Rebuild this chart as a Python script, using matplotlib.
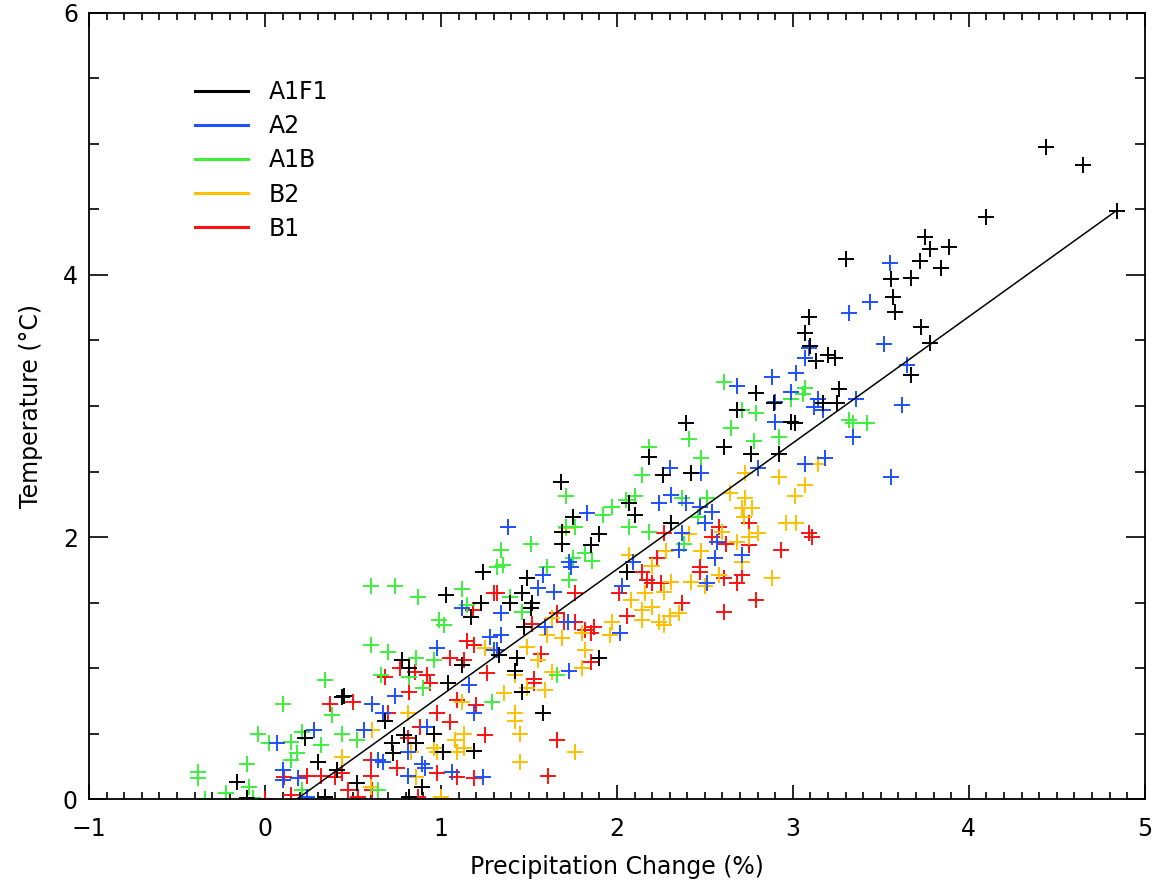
import numpy as np
import matplotlib
matplotlib.use("Agg")
import matplotlib.pyplot as plt
from matplotlib.lines import Line2D
from matplotlib.ticker import MultipleLocator

# scenario point clouds (precipitation change %, temperature degC)
a1f1_x = [4.44, 4.65, 4.84, 4.10, 3.75, 3.78, 3.89, 3.72, 3.84, 3.67, 3.56, 3.30, 3.57, 3.58,
          3.73, 3.78, 3.09, 3.07, 3.10, 3.20, 3.24, 3.13, 3.26, 3.25, 3.17, 3.01, 3.67,
          2.79, 2.89, 2.68, 2.99, 2.39, 2.61, 2.76, 2.18, 2.26, 2.42, 2.92, 2.31,
          1.68, 1.75, 1.69, 1.69, 1.90, 1.85, 2.07, 2.10,
          1.49, 1.46, 1.39, 1.52, 1.51, 1.47, 1.33, 1.43, 1.42, 1.90, 2.06,
          1.24, 1.03, 1.23, 1.17, 0.78, 1.12, 0.82,
          -0.16, -0.10, 0.23, 0.30, 0.34, 0.44, 0.41,
          0.45, 0.68, 0.79, 0.72, 0.73, 0.86, 0.96, 1.01, 1.19, 0.89, 0.82, 1.04, 0.52,
          1.46, 1.58]
a1f1_y = [4.98, 4.84, 4.49, 4.44, 4.29, 4.20, 4.21, 4.11, 4.05, 3.98, 3.97, 4.12, 3.83, 3.72,
          3.60, 3.48, 3.68, 3.56, 3.46, 3.39, 3.37, 3.34, 3.13, 3.02, 3.02, 2.87, 3.24,
          3.10, 3.02, 2.97, 2.88, 2.87, 2.69, 2.63, 2.61, 2.47, 2.49, 2.63, 2.11,
          2.42, 2.15, 2.04, 1.95, 2.02, 1.94, 2.26, 2.17,
          1.69, 1.57, 1.50, 1.50, 1.46, 1.31, 1.10, 1.08, 0.98, 1.08, 1.73,
          1.73, 1.56, 1.50, 1.39, 1.06, 1.02, 1.00,
          0.13, 0.01, 0.47, 0.28, 0.02, 0.78, 0.22,
          0.79, 0.60, 0.49, 0.43, 0.35, 0.43, 0.50, 0.36, 0.37, 0.09, 0.02, 0.89, 0.12,
          0.82, 0.66]

a2_x = [3.55, 3.44, 3.32, 3.52, 3.09, 3.07, 3.02, 2.99, 3.14, 3.12, 3.17, 3.36, 3.65, 3.62,
        3.34, 3.07, 3.18, 3.56,
        2.88, 2.68, 2.90, 2.90, 2.80, 2.30, 2.31, 2.24, 2.39, 2.47, 2.54, 2.50, 2.37, 2.57,
        2.71, 2.56, 2.35, 2.48,
        1.83, 1.38, 1.73, 2.09,
        1.58, 1.55, 1.64, 1.34, 1.34, 1.59, 1.72, 2.02, 1.73, 2.03, 1.32, 1.74, 2.51,
        1.12, 0.98, 1.28, 1.30,
        0.07, 0.28, 0.10, 0.10, 0.19, 0.24,
        0.61, 0.56, 0.67, 0.92, 0.64, 0.67, 0.81, 0.89, 0.91, 0.81, 1.06, 1.24, 1.19, 1.16, 0.74]
a2_y = [4.09, 3.79, 3.71, 3.47, 3.44, 3.37, 3.25, 3.11, 3.05, 2.99, 2.97, 3.05, 3.31, 3.01,
        2.76, 2.56, 2.60, 2.46,
        3.22, 3.15, 3.03, 2.88, 2.53, 2.53, 2.32, 2.26, 2.26, 2.23, 2.19, 2.11, 2.03, 1.96,
        1.86, 1.84, 1.90, 2.49,
        2.18, 2.08, 1.81, 1.81,
        1.71, 1.61, 1.58, 1.42, 1.25, 1.31, 1.35, 1.27, 0.98, 1.63, 1.14, 1.77, 1.65,
        1.46, 1.15, 1.24, 1.14,
        0.43, 0.53, 0.22, 0.15, 0.16, 0.02,
        0.73, 0.53, 0.66, 0.55, 0.30, 0.28, 0.36, 0.27, 0.24, 0.18, 0.21, 0.17, 0.66, 0.87, 0.79]

a1b_x = [3.07, 3.06, 2.99, 3.32, 3.34, 3.42,
         2.61, 2.71, 2.79, 2.65, 2.41, 2.78, 2.92, 2.18, 2.48, 2.14, 2.37, 2.51, 2.46, 2.18, 2.38,
         1.71, 1.92, 1.97, 2.05, 2.10, 2.07, 1.76, 1.71, 1.51, 1.34, 1.35, 1.82, 1.86, 1.75, 1.60,
         1.73, 1.39, 1.46, 1.66,
         0.60, 0.74, 0.87, 1.12, 0.99, 1.02, 0.60, 0.70, 0.86, 0.96, 1.15, 0.66, 0.82, 1.32,
         0.34, 0.10, -0.04, 0.02, 0.15, 0.21, 0.32, -0.10, -0.38, -0.38, 0.18, 0.15, 0.38, 0.44,
         -0.09, -0.22, 0.21, -0.07, -0.34,
         0.52, 1.29, 0.90, 0.64]
a1b_y = [3.14, 3.09, 3.05, 2.89, 2.87, 2.87,
         3.18, 2.97, 2.95, 2.83, 2.75, 2.73, 2.76, 2.69, 2.60, 2.47, 2.30, 2.30, 2.15, 2.04, 1.95,
         2.31, 2.17, 2.23, 2.28, 2.31, 2.08, 2.08, 2.08, 1.95, 1.90, 1.79, 1.88, 1.82, 1.84, 1.77,
         1.67, 1.54, 1.43, 0.95,
         1.63, 1.63, 1.54, 1.60, 1.37, 1.33, 1.18, 1.12, 1.08, 1.06, 1.48, 0.95, 0.93, 1.77,
         0.91, 0.73, 0.50, 0.43, 0.44, 0.51, 0.41, 0.27, 0.21, 0.16, 0.35, 0.30, 0.64, 0.50,
         0.09, 0.05, 0.07, 0.01, 0.00,
         0.45, 0.74, 0.85, 0.07]

b2_x = [3.14, 3.07, 3.01, 3.02,
        2.92, 2.73, 2.64, 2.73, 2.71, 2.77, 2.72, 2.96, 2.80, 2.75, 2.60, 2.68, 2.41, 2.48,
        2.28, 2.71, 2.20,
        1.71, 2.07,
        2.88, 2.42, 2.50, 2.58, 2.31, 2.27, 2.20, 2.30, 2.35, 2.24, 2.27,
        2.16, 2.08, 1.97, 1.80, 1.69, 1.60, 1.49, 1.82, 1.80, 1.63, 2.14, 2.14, 1.96, 1.55,
        1.42, 1.63, 1.25,
        0.81, 1.12, 1.08, 1.13, 0.96, 0.98, 1.09, 0.83, 0.86, 1.00, 0.61, 0.44, 1.13, 0.60,
        1.36, 1.59, 1.42, 1.42, 1.45, 1.76, 1.45, 1.49]
b2_y = [2.56, 2.40, 2.31, 2.11,
        2.46, 2.49, 2.34, 2.30, 2.22, 2.22, 2.15, 2.11, 2.03, 2.00, 2.04, 1.96, 2.02, 1.89,
        1.89, 1.81, 1.78,
        2.07, 1.86,
        1.69, 1.66, 1.63, 1.71, 1.66, 1.58, 1.47, 1.40, 1.42, 1.35, 1.33,
        1.57, 1.52, 1.35, 1.27, 1.23, 1.25, 1.16, 1.14, 1.00, 0.97, 1.44, 1.37, 1.25, 1.06,
        0.95, 1.38, 1.15,
        0.66, 0.74, 0.45, 0.50, 0.39, 0.36, 0.36, 0.36, 0.17, 0.02, 0.53, 0.32, 0.39, 0.09,
        0.81, 0.83, 0.66, 0.60, 0.50, 0.36, 0.28, 0.85]

b1_x = [3.09, 3.11,
        2.75, 2.58, 2.54, 2.62, 2.75, 2.93, 2.23, 2.56, 2.27,
        2.47, 2.47, 2.61, 2.68, 2.71, 2.37, 2.61, 2.79, 2.20, 2.25,
        1.32, 2.01, 2.14, 2.17, 1.76, 1.66, 1.70, 1.76, 1.87, 1.85, 1.82, 2.06, 1.52, 1.57,
        1.85, 1.53,
        1.30, 1.18, 1.15, 1.19, 1.05, 1.13, 0.77, 0.85, 0.92, 0.68, 1.26,
        0.37, 0.11, 0.24, 0.40, 0.15, 0.00, 0.32,
        0.50, 0.70, 0.82, 0.88, 0.98, 1.05, 1.09, 1.20, 1.25, 0.81, 0.60, 0.75, 0.60, 0.98,
        1.09, 1.19, 0.47, 0.61, 0.87, 0.53, 0.44, 0.94,
        1.53, 1.66, 1.61]
b1_y = [2.03, 2.00,
        2.11, 2.08, 2.00, 1.95, 1.94, 1.90, 1.84, 1.84, 2.03,
        1.77, 1.73, 1.69, 1.65, 1.71, 1.50, 1.43, 1.52, 1.65, 1.65,
        1.57, 1.57, 1.73, 1.67, 1.57, 1.42, 1.35, 1.35, 1.31, 1.27, 1.29, 1.40, 1.34, 1.11,
        1.05, 0.92,
        1.57, 1.44, 1.21, 1.18, 1.08, 1.06, 1.00, 0.97, 0.95, 0.93, 0.96,
        0.73, 0.17, 0.18, 0.17, 0.03, 0.00, 0.18,
        0.74, 0.66, 0.82, 0.55, 0.66, 0.59, 0.76, 0.72, 0.49, 0.47, 0.30, 0.24, 0.18, 0.20,
        0.17, 0.16, 0.07, 0.07, 0.02, 0.02, 0.20, 0.89,
        0.89, 0.45, 0.18]

# fitted line
fit_slope = 0.964
fit_intercept = -0.174
fit_xrange = [0.18, 4.84]

series = [
    ("A1F1", a1f1_x, a1f1_y, "#000000"),
    ("A2", a2_x, a2_y, "#1E50FF"),
    ("A1B", a1b_x, a1b_y, "#3CF03C"),
    ("B2", b2_x, b2_y, "#FFC000"),
    ("B1", b1_x, b1_y, "#FF1010"),
]

FS = 17

fig = plt.figure(figsize=(11.64, 8.86), dpi=100)
ax = fig.add_axes([0.0765, 0.098, 0.907, 0.8875])

# draw low-emission scenarios first so black sits on top like the original
for name, xs, ys, col in reversed(series):
    ax.plot(xs, ys, linestyle="none", marker="+", markersize=11,
            markeredgewidth=1.4, color=col)

fx = np.array(fit_xrange)
ax.plot(fx, fit_slope * fx + fit_intercept, color="black", lw=1.1)

ax.set_xlim(-1, 5)
ax.set_ylim(0, 6)
ax.xaxis.set_major_locator(MultipleLocator(1))
ax.xaxis.set_minor_locator(MultipleLocator(0.1))
ax.yaxis.set_major_locator(MultipleLocator(2))
ax.yaxis.set_minor_locator(MultipleLocator(0.5))
ax.tick_params(axis="both", which="both", direction="in", top=True, right=True,
               labelsize=FS, width=1.2)
ax.tick_params(axis="x", which="major", length=10, pad=13)
ax.tick_params(axis="x", which="minor", length=5)
ax.tick_params(axis="y", which="major", length=14, pad=8)
ax.tick_params(axis="y", which="minor", length=7)
for s in ax.spines.values():
    s.set_linewidth(1.3)

ax.set_xlabel("Precipitation Change (%)", fontsize=FS, labelpad=10)
ax.set_ylabel("Temperature (°C)", fontsize=FS, labelpad=14)

handles = [Line2D([0], [0], color=col, lw=2.2) for _, _, _, col in series]
ax.legend(handles, [s[0] for s in series], loc="upper left",
          bbox_to_anchor=(0.0805, 0.9415), frameon=False, fontsize=FS,
          handlelength=2.25, handletextpad=0.85, labelspacing=0.43)

fig.savefig("out.png", dpi=100)
